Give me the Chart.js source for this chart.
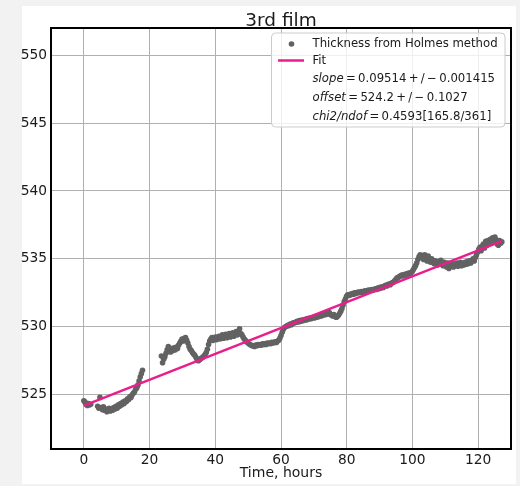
<!DOCTYPE html>
<html>
<head>
<meta charset="utf-8">
<title>3rd film</title>
<script src="https://cdn.jsdelivr.net/npm/chart.js@4.4.1/dist/chart.umd.min.js"></script>
<style>
  html, body { margin: 0; padding: 0; background: #f2f2f2; overflow: hidden; }
  canvas { display: block; }
</style>
</head>
<body>
<canvas id="film" width="520" height="486"></canvas>
<script>
// Measured film thickness (nm) versus elapsed time (hours)
const hours = [
  0.0, 0.35, 0.7, 1.05, 1.4, 1.75, 2.1,
  4.2, 4.55, 4.9, 5.25, 5.6, 5.95, 6.3, 6.65, 7.0, 7.35, 7.7, 8.05, 8.4, 8.75, 9.1, 9.45, 9.8,
  10.15, 10.5, 10.85, 11.2, 11.55, 11.9, 12.25, 12.6, 12.95, 13.3, 13.65, 14.0, 14.35, 14.7,
  15.05, 15.4, 15.75, 16.1, 16.45, 16.8, 17.15, 17.5, 17.85,
  23.6, 23.95, 24.3, 24.65, 25.0, 25.35, 25.7, 26.05, 26.4, 26.75, 27.1, 27.45, 27.8, 28.15,
  28.5, 28.85, 29.2, 29.55, 29.9, 30.25, 30.6, 30.95, 31.3, 31.65, 32.0, 32.35, 32.7, 33.05,
  33.4, 33.75, 34.1, 34.45, 34.8, 35.15, 35.5, 35.85, 36.2, 36.55, 36.9, 37.25, 37.6, 37.95,
  38.3, 38.65, 39.0, 39.35, 39.7, 40.05, 40.4, 40.75, 41.1, 41.45, 41.8, 42.15, 42.5, 42.85,
  43.2, 43.55, 43.9, 44.25, 44.6, 44.95, 45.3, 45.65, 46.0, 46.35, 46.7, 47.05, 47.4, 47.75,
  48.1, 48.45, 48.8, 49.15, 49.5, 49.85, 50.2, 50.55, 50.9, 51.25, 51.6, 51.95, 52.3, 52.65,
  53.0, 53.35, 53.7, 54.05, 54.4, 54.75, 55.1, 55.45, 55.8, 56.15, 56.5, 56.85, 57.2, 57.55,
  57.9, 58.25, 58.6, 58.95, 59.3, 59.65, 60.0, 60.35, 60.7, 61.05, 61.4, 61.75, 62.1, 62.45,
  62.8, 63.15, 63.5, 63.85, 64.2, 64.55, 64.9, 65.25, 65.6, 65.95, 66.3, 66.65, 67.0, 67.35,
  67.7, 68.05, 68.4, 68.75, 69.1, 69.45, 69.8, 70.15, 70.5, 70.85, 71.2, 71.55, 71.9, 72.25,
  72.6, 72.95, 73.3, 73.65, 74.0, 74.35, 74.7, 75.05, 75.4, 75.75, 76.1, 76.45, 76.8, 77.15,
  77.5, 77.85, 78.2, 78.55, 78.9, 79.25, 79.6, 79.95, 80.3, 80.65, 81.0, 81.35, 81.7, 82.05,
  82.4, 82.75, 83.1, 83.45, 83.8, 84.15, 84.5, 84.85, 85.2, 85.55, 85.9, 86.25, 86.6, 86.95,
  87.3, 87.65, 88.0, 88.35, 88.7, 89.05, 89.4, 89.75, 90.1, 90.45, 90.8, 91.15, 91.5, 91.85,
  92.2, 92.55, 92.9, 93.25, 93.6, 93.95, 94.3, 94.65, 95.0, 95.35, 95.7, 96.05, 96.4, 96.75,
  97.1, 97.45, 97.8, 98.15, 98.5, 98.85, 99.2, 99.55, 99.9, 100.25, 100.6, 100.95, 101.3, 101.65,
  102.0, 102.35, 102.7, 103.05, 103.4, 103.75, 104.1, 104.45, 104.8, 105.15, 105.5, 105.85, 106.2, 106.55,
  106.9, 107.25, 107.6, 107.95, 108.3, 108.65, 109.0, 109.35, 109.7, 110.05, 110.4, 110.75, 111.1, 111.45,
  111.8, 112.15, 112.5, 112.85, 113.2, 113.55, 113.9, 114.25, 114.6, 114.95, 115.3, 115.65, 116.0, 116.35,
  116.7, 117.05, 117.4, 117.75, 118.1, 118.45, 118.8, 119.15, 119.5, 119.85, 120.2, 120.55, 120.9, 121.25,
  121.6, 121.95, 122.3, 122.65, 123.0, 123.35, 123.7, 124.05, 124.4, 124.75, 125.1, 125.45, 125.8, 126.15,
  126.5, 126.85, 127.2
];
const thickness = [
  524.55, 524.45, 524.3, 524.2, 524.35, 524.25, 524.3,
  524.15, 524.0, 524.8, 524.05, 523.9, 524.1, 523.85, 523.95, 523.75, 523.85, 524.0, 523.8, 523.95, 523.85, 524.05, 523.95, 524.15,
  524.0, 524.25, 524.15, 524.35, 524.25, 524.45, 524.35, 524.55, 524.5, 524.7, 524.65, 524.85, 524.8, 525.0,
  525.1, 525.2, 525.4, 525.5, 525.7, 526.0, 526.3, 526.55, 526.8,
  527.85, 527.35, 527.6, 527.8, 528.05, 528.3, 528.55, 528.3, 528.15, 528.4, 528.25, 528.45, 528.3, 528.5,
  528.4, 528.65, 528.8, 528.95, 529.1, 528.95, 529.15, 529.2, 529.0, 528.8, 528.55, 528.35, 528.25, 528.1,
  528.0, 527.9, 527.75, 527.6, 527.5, 527.55, 527.65, 527.7, 527.75, 527.85, 527.95, 528.1, 528.35, 528.7,
  528.95, 529.1, 529.2, 529.0, 529.15, 529.25, 529.05, 529.2, 529.3, 529.1, 529.25, 529.4, 529.15, 529.3,
  529.45, 529.2, 529.35, 529.5, 529.25, 529.4, 529.55, 529.3, 529.45, 529.65, 529.4, 529.6, 529.85, 529.5,
  529.4, 529.25, 529.1, 529.0, 528.9, 528.85, 528.75, 528.7, 528.65, 528.6, 528.6, 528.55, 528.65, 528.6,
  528.7, 528.65, 528.7, 528.65, 528.75, 528.7, 528.75, 528.7, 528.8, 528.75, 528.8, 528.75, 528.85, 528.8,
  528.85, 528.9, 528.85, 528.95, 529.0, 529.15, 529.35, 529.6, 529.8, 529.95, 530.0, 530.05, 530.1, 530.1,
  530.2, 530.15, 530.25, 530.3, 530.3, 530.35, 530.4, 530.35, 530.45, 530.4, 530.5, 530.45, 530.5, 530.55,
  530.5, 530.6, 530.55, 530.65, 530.6, 530.65, 530.7, 530.65, 530.75, 530.7, 530.8, 530.75, 530.85, 530.8,
  530.9, 530.85, 530.95, 530.9, 531.0, 530.95, 531.05, 530.9, 530.85, 530.8, 530.9, 530.75, 530.7, 530.75,
  530.85, 531.0, 531.15, 531.35, 531.6, 531.85, 532.05, 532.25, 532.35, 532.3, 532.4, 532.35, 532.45, 532.4,
  532.5, 532.45, 532.5, 532.55, 532.5, 532.55, 532.6, 532.55, 532.6, 532.65, 532.6, 532.65, 532.7, 532.65,
  532.7, 532.75, 532.7, 532.75, 532.8, 532.75, 532.85, 532.8, 532.9, 532.85, 532.95, 532.9, 533.0, 533.05,
  533.0, 533.1, 533.15, 533.1, 533.2, 533.25, 533.3, 533.4, 533.5, 533.6, 533.65, 533.7, 533.75, 533.8,
  533.75, 533.85, 533.8, 533.9, 533.85, 533.95, 533.9, 534.0, 534.05, 534.2, 534.35, 534.5, 534.7, 534.95,
  535.15, 535.3, 535.1, 535.25, 534.95, 535.3, 535.05, 534.85, 535.2, 534.9, 534.75, 535.0, 534.8, 534.65,
  534.85, 534.7, 534.55, 534.8, 534.6, 534.9, 534.65, 534.5, 534.75, 534.6, 534.4, 534.7, 534.3, 534.55,
  534.45, 534.65, 534.4, 534.6, 534.5, 534.7, 534.45, 534.6, 534.75, 534.5, 534.65, 534.55, 534.75, 534.6,
  534.8, 534.65, 534.85, 534.7, 534.9, 535.0, 534.85, 535.1, 535.3, 535.5, 535.7, 535.85, 535.6, 535.95,
  536.1, 535.8, 536.3, 536.0, 536.35, 536.15, 536.45, 536.25, 536.55, 536.3, 536.6, 536.4, 536.1, 536.0,
  536.35, 536.15, 536.25
];

// Linear fit results
const fitSlope = 0.09514;
const fitSlopeErr = 0.001415;
const fitOffset = 524.2;
const fitOffsetErr = 0.1027;
const chi2 = 165.8;
const ndof = 361;
const chi2PerDof = 0.4593;

const xTicks = [0, 20, 40, 60, 80, 100, 120];
const yTicks = [525, 530, 535, 540, 545, 550];

const FONT = 'DejaVu Sans';
const INK = '#1a1a1a';
const DOT = '#626262';
const PINK = '#e91e8c';
const THIN = '\u2009';

const points = hours.map((h, i) => ({ x: h, y: thickness[i] }));
const tFirst = hours[0];
const tLast = hours[hours.length - 1];
const fitLine = [
  { x: tFirst, y: fitOffset + fitSlope * tFirst },
  { x: tLast, y: fitOffset + fitSlope * tLast }
];

const pm = (v, e) => THIN + '=' + THIN + v + THIN + '+' + THIN + '/' + THIN + '\u2212' + THIN + e;
const legendRows = [
  { kind: 'dot', parts: [{ t: 'Thickness from Holmes method' }] },
  { kind: 'line', parts: [{ t: 'Fit' }] },
  { kind: 'none', parts: [{ t: 'slope', it: true }, { t: pm(fitSlope, fitSlopeErr) }] },
  { kind: 'none', parts: [{ t: 'offset', it: true }, { t: pm(fitOffset, fitOffsetErr) }] },
  { kind: 'none', parts: [{ t: 'chi2/ndof', it: true }, { t: THIN + '=' + THIN + chi2PerDof + '[' + chi2 + '/' + ndof + ']' }] }
];

// Figure background, plot frame, title and in-axes legend
const decorations = {
  id: 'decorations',
  beforeDraw(chart) {
    const { ctx, width, height } = chart;
    ctx.save();
    ctx.fillStyle = '#f2f2f2';
    ctx.fillRect(0, 0, width, height);
    ctx.fillStyle = '#ffffff';
    ctx.fillRect(22, 6, 494, 478);
    ctx.restore();
  },
  afterDraw(chart) {
    const { ctx, chartArea: a } = chart;
    ctx.save();
    // frame
    ctx.strokeStyle = '#000000';
    ctx.lineWidth = 2;
    ctx.strokeRect(a.left, a.top, a.right - a.left, a.bottom - a.top);
    // title
    ctx.fillStyle = INK;
    ctx.font = '18.5px "' + FONT + '"';
    ctx.textAlign = 'center';
    ctx.textBaseline = 'alphabetic';
    ctx.fillText('3rd film', (a.left + a.right) / 2, a.top - 2);

    // legend box in the upper right corner of the axes
    const right = a.right - 6, top = a.top + 5;
    const left = right - 233.5, bottom = top + 94;
    const r = 4;
    ctx.beginPath();
    ctx.moveTo(left + r, top);
    ctx.lineTo(right - r, top);
    ctx.quadraticCurveTo(right, top, right, top + r);
    ctx.lineTo(right, bottom - r);
    ctx.quadraticCurveTo(right, bottom, right - r, bottom);
    ctx.lineTo(left + r, bottom);
    ctx.quadraticCurveTo(left, bottom, left, bottom - r);
    ctx.lineTo(left, top + r);
    ctx.quadraticCurveTo(left, top, left + r, top);
    ctx.closePath();
    ctx.fillStyle = 'rgba(255,255,255,0.8)';
    ctx.fill();
    ctx.strokeStyle = '#cccccc';
    ctx.lineWidth = 1;
    ctx.stroke();

    const rowY = [44, 60.5, 79, 98, 116.5];
    const textX = left + 41;
    ctx.textAlign = 'left';
    ctx.textBaseline = 'middle';
    legendRows.forEach((row, i) => {
      const y = rowY[i];
      if (row.kind === 'dot') {
        ctx.beginPath();
        ctx.arc(left + 20, y, 2.8, 0, Math.PI * 2);
        ctx.fillStyle = DOT;
        ctx.fill();
      } else if (row.kind === 'line') {
        ctx.beginPath();
        ctx.moveTo(left + 6.5, y);
        ctx.lineTo(left + 32.5, y);
        ctx.strokeStyle = PINK;
        ctx.lineWidth = 2.5;
        ctx.stroke();
      }
      let x = textX;
      ctx.fillStyle = INK;
      row.parts.forEach(p => {
        ctx.font = (p.it ? 'italic ' : '') + '11.7px "' + FONT + '"';
        ctx.fillText(p.t, x, y);
        x += ctx.measureText(p.t).width;
      });
    });
    ctx.restore();
  }
};

const tickFont = { family: FONT, size: 13.8 };

new Chart(document.getElementById('film'), {
  type: 'scatter',
  data: {
    datasets: [
      {
        type: 'line',
        label: 'Fit',
        data: fitLine,
        borderColor: PINK,
        borderWidth: 2.5,
        pointRadius: 0,
        fill: false,
        order: 0
      },
      {
        label: 'Thickness from Holmes method',
        data: points,
        backgroundColor: DOT,
        borderWidth: 0,
        pointRadius: 2.8,
        order: 1
      }
    ]
  },
  options: {
    responsive: false,
    animation: false,
    devicePixelRatio: 1,
    layout: { padding: { left: 0, right: 9, top: 28, bottom: 0 } },
    plugins: {
      legend: { display: false },
      title: { display: false },
      tooltip: { enabled: false }
    },
    scales: {
      x: {
        type: 'linear',
        min: -10,
        max: 130,
        afterBuildTicks: s => { s.ticks = xTicks.map(v => ({ value: v })); },
        afterFit: s => { s.height = 37; },
        grid: { color: '#b0b0b0', lineWidth: 1, drawTicks: false },
        border: { display: false },
        ticks: { font: tickFont, color: INK, padding: 3, maxRotation: 0 },
        title: {
          display: true,
          text: 'Time, hours',
          font: { family: FONT, size: 14 },
          color: INK,
          padding: { top: 0, bottom: 4 }
        }
      },
      y: {
        type: 'linear',
        min: 521,
        max: 552,
        afterBuildTicks: s => { s.ticks = yTicks.map(v => ({ value: v })); },
        afterFit: s => { s.width = 51; },
        grid: { color: '#b0b0b0', lineWidth: 1, drawTicks: false },
        border: { display: false },
        ticks: { font: tickFont, color: INK, padding: 4 }
      }
    }
  },
  plugins: [decorations]
});
</script>
</body>
</html>
